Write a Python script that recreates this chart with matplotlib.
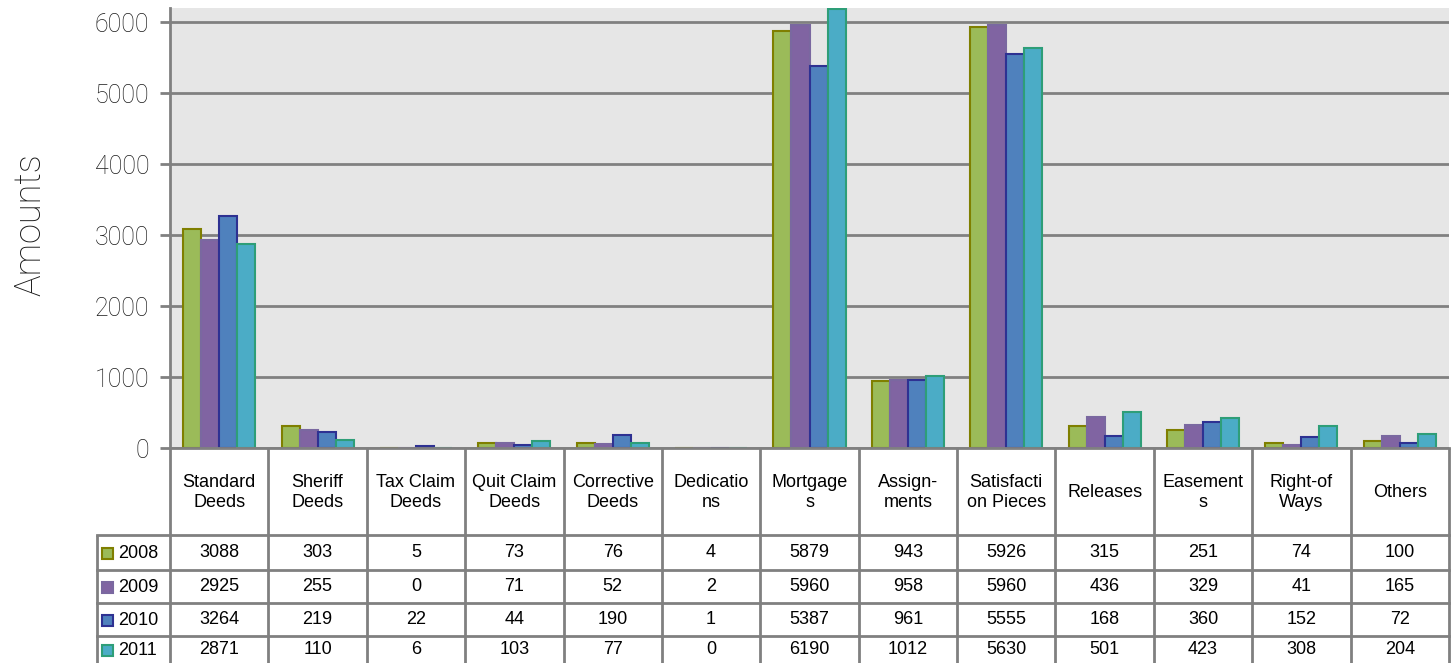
import numpy as np
import matplotlib
matplotlib.use("Agg")
import matplotlib.pyplot as plt
from matplotlib.patches import Rectangle

# recorded instruments per year
categories = ["Standard\nDeeds", "Sheriff\nDeeds", "Tax Claim\nDeeds", "Quit Claim\nDeeds",
              "Corrective\nDeeds", "Dedicatio\nns", "Mortgage\ns", "Assign-\nments",
              "Satisfacti\non Pieces", "Releases", "Easement\ns", "Right-of\nWays", "Others"]
years = ["2008", "2009", "2010", "2011"]
v2008 = [3088, 303, 5, 73, 76, 4, 5879, 943, 5926, 315, 251, 74, 100]
v2009 = [2925, 255, 0, 71, 52, 2, 5960, 958, 5960, 436, 329, 41, 165]
v2010 = [3264, 219, 22, 44, 190, 1, 5387, 961, 5555, 168, 360, 152, 72]
v2011 = [2871, 110, 6, 103, 77, 0, 6190, 1012, 5630, 501, 423, 308, 204]
series = [v2008, v2009, v2010, v2011]

fills = ["#9BBB59", "#8064A2", "#4F81BD", "#4BACC6"]
edges = ["#7F7F00", "#7A68A0", "#2E3192", "#2E9E78"]
grid_col = "#808080"
axis_font = ["Roboto", "DejaVu Sans"]

W, H = 1455, 663
fig = plt.figure(figsize=(W / 100, H / 100), dpi=100)

# plot area in pixels
left, right, top, zero = 170, 1449, 8, 448
ax = fig.add_axes([left / W, 1 - zero / H, (right - left) / W, (zero - top) / H])
ax.set_facecolor("#E6E6E6")
ax.set_xlim(0, len(categories))
ax.set_ylim(0, 6200)

x = np.arange(len(categories)) + 0.5
bw = 0.183
for i, vals in enumerate(series):
    ax.bar(x + (i - 1.5) * bw, vals, width=bw, color=fills[i], edgecolor=edges[i],
           linewidth=1.5, zorder=3)

ax.set_yticks(range(0, 7000, 1000))
ax.yaxis.grid(True, color=grid_col, linewidth=2, zorder=1)
ax.set_axisbelow(True)
ax.set_xticks([])
for s in ["top", "right", "bottom"]:
    ax.spines[s].set_visible(False)
ax.spines["left"].set_color(grid_col)
ax.spines["left"].set_linewidth(2)
ax.tick_params(axis="y", length=7, width=2, color=grid_col, pad=8, labelsize=18,
               labelcolor="#1a1a1a")
for lab in ax.get_yticklabels():
    lab.set_family(axis_font)
    lab.set_fontweight("light")

fig.text(30 / W, 1 - 225 / H, "Amounts", rotation=90, ha="center", va="center",
         fontsize=26, family=axis_font, fontweight="light", color="#1a1a1a")

# data table below the plot
col_w = (right - left) / len(categories)
lab_w = (left - 97) / col_w
tab = fig.add_axes([97 / W, 0, (right - 97) / W, (H - zero) / H])
tab.set_xlim(-lab_w, len(categories))
tab.set_ylim(H - zero, 0)
tab.axis("off")

rows = [0, 87, 122, 155, 188, 215]
lw = 2
for c in range(len(categories) + 1):
    tab.plot([c, c], [0, rows[-1]], color=grid_col, lw=lw, clip_on=False, solid_capstyle="butt")
tab.plot([-lab_w, -lab_w], [rows[1], rows[-1]], color=grid_col, lw=lw, clip_on=False,
         solid_capstyle="butt")
tab.plot([0, len(categories)], [0, 0], color=grid_col, lw=lw, clip_on=False)
for r in rows[1:5]:
    tab.plot([-lab_w, len(categories)], [r, r], color=grid_col, lw=lw, clip_on=False)

tfont = dict(family=["Liberation Sans", "DejaVu Sans"], fontsize=13, color="#000000")
for c, name in enumerate(categories):
    tab.text(c + 0.5, rows[1] / 2 + 1, name, ha="center", va="center",
             linespacing=1.3, **tfont)
for i, vals in enumerate(series):
    yc = (rows[i + 1] + rows[i + 2]) / 2
    for c, v in enumerate(vals):
        tab.text(c + 0.5, yc, str(v), ha="center", va="center", **tfont)
    sq = 11 / col_w
    tab.add_patch(Rectangle((-lab_w + 5 / col_w, yc - 5), sq, 11, facecolor=fills[i],
                            edgecolor=edges[i], lw=1.5, clip_on=False))
    tab.text(-lab_w + 21 / col_w, yc + 1, years[i], ha="left", va="center", **tfont)

fig.savefig("out.png", dpi=100)
